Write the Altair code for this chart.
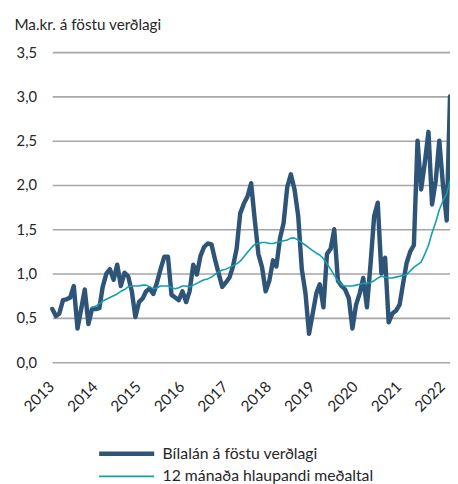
import altair as alt
import pandas as pd

S1 = "Bílalán á föstu verðlagi"
S2 = "12 mánaða hlaupandi meðaltal"

# Monthly values, Jan 2013 - Mar 2022 (111 months)
bil = [
    0.60, 0.52, 0.55, 0.70, 0.71, 0.73, 0.86, 0.38, 0.60, 0.82, 0.43, 0.60,   # 2013
    0.60, 0.61, 0.85, 1.00, 1.05, 0.93, 1.10, 0.86, 1.01, 0.97, 0.80, 0.51,   # 2014
    0.68, 0.72, 0.80, 0.83, 0.77, 0.90, 1.05, 1.19, 1.19, 0.76, 0.73, 0.70,   # 2015
    0.80, 0.68, 0.80, 1.10, 0.99, 1.20, 1.30, 1.34, 1.33, 1.16, 1.00, 0.85,   # 2016
    0.90, 0.96, 1.08, 1.28, 1.68, 1.79, 1.87, 2.02, 1.60, 1.22, 1.07, 0.80,   # 2017
    0.92, 1.15, 1.08, 1.40, 1.57, 1.98, 2.12, 1.95, 1.65, 1.05, 0.78, 0.32,   # 2018
    0.55, 0.78, 0.88, 0.62, 1.22, 1.28, 1.50, 0.92, 0.86, 0.82, 0.72, 0.38,   # 2019
    0.65, 0.78, 0.95, 0.62, 1.10, 1.65, 1.80, 1.00, 1.18, 0.45, 0.55, 0.58,   # 2020
    0.65, 0.90, 1.12, 1.25, 1.32, 2.50, 1.95, 2.25, 2.60, 1.78, 2.05, 2.50,   # 2021
    2.00, 1.60, 3.00,                                                         # 2022
]

avg = [None] * 11 + [
    0.62,                                                                     # 2013 Dec
    0.63, 0.66, 0.69, 0.71, 0.73, 0.75, 0.77, 0.80, 0.82, 0.85, 0.86, 0.86,   # 2014
    0.86, 0.87, 0.87, 0.85, 0.83, 0.84, 0.86, 0.86, 0.86, 0.84, 0.83, 0.84,   # 2015
    0.86, 0.86, 0.85, 0.87, 0.89, 0.91, 0.93, 0.94, 0.96, 0.99, 1.02, 1.04,   # 2016
    1.05, 1.07, 1.09, 1.11, 1.14, 1.19, 1.24, 1.29, 1.33, 1.34, 1.35, 1.35,   # 2017
    1.34, 1.34, 1.35, 1.36, 1.37, 1.38, 1.40, 1.40, 1.38, 1.35, 1.32, 1.29,   # 2018
    1.26, 1.23, 1.21, 1.17, 1.11, 1.05, 0.98, 0.92, 0.87, 0.86, 0.86, 0.86,   # 2019
    0.87, 0.88, 0.89, 0.89, 0.90, 0.92, 0.95, 0.97, 0.96, 0.95, 0.95, 0.96,   # 2020
    0.97, 0.98, 0.99, 1.03, 1.07, 1.10, 1.13, 1.22, 1.32, 1.46, 1.58, 1.72,   # 2021
    1.82, 1.90, 2.05,                                                         # 2022
]

months = pd.date_range("2013-01-01", periods=len(bil), freq="MS")
year_ticks = [f"{y}-01-01T00:00:00" for y in range(2013, 2023)]
y_ticks = [0, 0.5, 1.0, 1.5, 2.0, 2.5, 3.0, 3.5]

rows = []
for d, v in zip(months, bil):
    rows.append({"date": d, "value": v, "series": S1})
for d, v in zip(months, avg):
    if v is not None:
        rows.append({"date": d, "value": v, "series": S2})
df = pd.DataFrame(rows)

FONT = "Lato"
TXT = "#262626"

legend = alt.Legend(
    title=None,
    orient="none",
    legendX=88,
    legendY=399,
    direction="vertical",
    symbolType="M-7.6,0H1",
    symbolSize=169,
    labelFont=FONT,
    labelFontSize=16,
    labelColor=TXT,
    labelOffset=6,
    labelLimit=0,
    rowPadding=6,
)

chart = (
    alt.Chart(df)
    .mark_line(strokeJoin="round", strokeCap="round")
    .encode(
        x=alt.X(
            "date:T",
            scale=alt.Scale(domain=["2013-01-01T00:00:00", "2022-03-01T00:00:00"]),
            axis=alt.Axis(
                title=None,
                values=year_ticks,
                format="%Y",
                labelAngle=-45,
                labelAlign="right",
                labelBaseline="middle",
                labelPadding=22,
                labelOffset=-1,
                labelFont=FONT,
                labelFontSize=15.5,
                labelColor=TXT,
                labelBound=False,
                labelOverlap=False,
                ticks=False,
                domain=False,
                grid=False,
            ),
        ),
        y=alt.Y(
            "value:Q",
            scale=alt.Scale(domain=[0, 3.5], nice=False),
            axis=alt.Axis(
                title="Ma.kr. á föstu verðlagi",
                titleAngle=0,
                titleAlign="left",
                titleBaseline="alphabetic",
                titleX=-39,
                titleY=-23,
                titleFont=FONT,
                titleFontSize=15.5,
                titleFontWeight="normal",
                titleColor=TXT,
                values=y_ticks,
                labelExpr="replace(format(datum.value, '.1f'), '.', ',')",
                labelFont=FONT,
                labelFontSize=15,
                labelColor=TXT,
                labelPadding=16,
                ticks=False,
                domain=False,
                grid=True,
                gridColor="#A6A6A6",
                gridWidth=1.6,
            ),
        ),
        color=alt.Color(
            "series:N",
            scale=alt.Scale(domain=[S1, S2], range=["#2E5478", "#109FAE"]),
            legend=legend,
        ),
        strokeWidth=alt.StrokeWidth(
            "series:N",
            scale=alt.Scale(domain=[S1, S2], range=[4.5, 1.6]),
            legend=legend,
        ),
    )
    .properties(
        width=404,
        height=315,
        autosize="none",
        padding={"left": 45, "top": 41, "right": 0, "bottom": 124},
    )
    .configure_view(stroke=None)
)

chart.save("out.html", embed_options={"renderer": "svg", "actions": False})
